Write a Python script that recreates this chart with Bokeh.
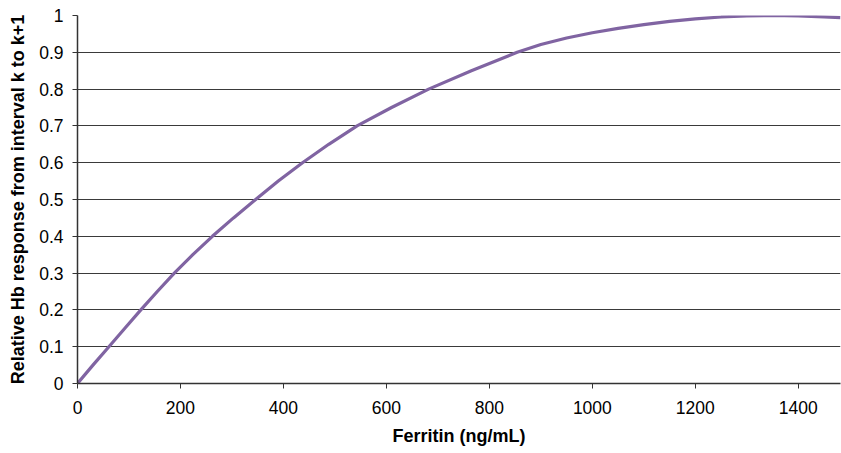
from bokeh.plotting import figure
from bokeh.models import FixedTicker, Range1d
from bokeh.embed import file_html
from bokeh.resources import INLINE

ferritin = [0, 30, 61, 92, 123, 155, 188, 224, 262, 303, 346, 390, 437, 488, 543, 610, 682, 765, 854,
            900, 950, 1000, 1050, 1100, 1150, 1200, 1250, 1300, 1346, 1400, 1450, 1482]
response = [0, 0.05, 0.1, 0.15, 0.2, 0.25, 0.3, 0.35, 0.4, 0.45, 0.5, 0.55, 0.6, 0.65, 0.7, 0.75, 0.8, 0.85, 0.9,
            0.921, 0.939, 0.953, 0.965, 0.975, 0.984, 0.991, 0.996, 0.999, 1.0, 0.999, 0.996, 0.994]

x_ticks = [0, 200, 400, 600, 800, 1000, 1200, 1400]
y_ticks = [0, 0.1, 0.2, 0.3, 0.4, 0.5, 0.6, 0.7, 0.8, 0.9, 1.0]
y_tick_labels = ["0", "0.1", "0.2", "0.3", "0.4", "0.5", "0.6", "0.7", "0.8", "0.9", "1"]

p = figure(width=841, height=453, output_backend="svg", toolbar_location=None,
           x_range=Range1d(0, 1482), y_range=Range1d(0, 1))
p.min_border_left = 77
p.min_border_right = 1
p.min_border_top = 15
p.min_border_bottom = 70
p.outline_line_color = None

font = "Liberation Sans"

p.xgrid.grid_line_color = None
p.ygrid.grid_line_color = "#3a3a3a"
p.ygrid.grid_line_width = 1
p.ygrid.ticker = FixedTicker(ticks=y_ticks)

p.xaxis.ticker = FixedTicker(ticks=x_ticks)
p.yaxis.ticker = FixedTicker(ticks=y_ticks)
p.yaxis.major_label_overrides = {t: l for t, l in zip(y_ticks, y_tick_labels)}

for ax in (p.xaxis, p.yaxis):
    ax.axis_line_color = "#333333"
    ax.axis_line_width = 1.5
    ax.major_tick_line_color = "#333333"
    ax.major_tick_out = 5
    ax.major_tick_in = 0
    ax.minor_tick_line_color = None
    ax.major_label_text_font = font
    ax.major_label_text_font_size = "17.5px"
    ax.major_label_text_color = "#000000"
    ax.axis_label_text_font = font
    ax.axis_label_text_font_size = "18px"
    ax.axis_label_text_font_style = "bold"
    ax.axis_label_text_color = "#000000"

p.xaxis.major_label_standoff = 12
p.yaxis.major_label_standoff = 9
p.xaxis.axis_label = "Ferritin (ng/mL)"
p.yaxis.axis_label = "Relative Hb response from interval k to k+1"
p.xaxis.axis_label_standoff = 9
p.yaxis.axis_label_standoff = 8

p.line(ferritin, response, line_color="#8064A2", line_width=3.2, line_join="round")

open("out.html", "w").write(file_html(p, INLINE))
